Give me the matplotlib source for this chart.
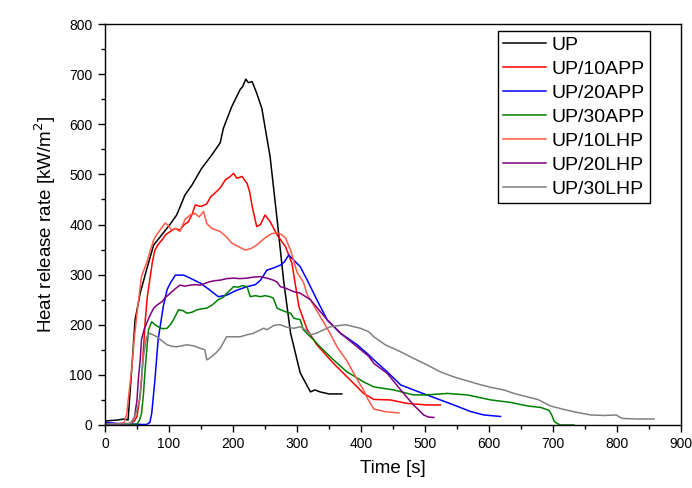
import matplotlib
matplotlib.use("Agg")
import matplotlib.pyplot as plt
from matplotlib.ticker import MultipleLocator

plt.rcParams['font.family'] = ['Liberation Sans', 'DejaVu Sans']

labels = ["UP", "UP/10APP", "UP/20APP", "UP/30APP", "UP/10LHP", "UP/20LHP", "UP/30LHP"]
colors = ["#000000", "#FF0000", "#0000FF", "#008000", "#FF5A47", "#800080", "#808080"]

t_up = [0, 10, 20, 30, 36, 42, 47, 55, 65, 76, 91, 102, 112, 125, 136, 151, 167, 180, 185, 198, 211, 215, 220, 224, 230, 237, 245, 258, 269, 279, 290, 305, 321, 328, 336, 350, 370]
v_up = [8, 9, 10, 12, 10, 116, 210, 263, 310, 359, 383, 401, 419, 459, 479, 512, 539, 563, 592, 635, 669, 675, 690, 683, 685, 662, 632, 535, 409, 289, 183, 104, 66, 70, 66, 62, 62]

t_10app = [0, 20, 40, 46, 50, 54, 57, 60, 63, 66, 70, 74, 78, 84, 89, 95, 102, 110, 117, 124, 130, 136, 141, 150, 159, 165, 172, 180, 188, 195, 201, 206, 214, 222, 226, 230, 237, 243, 250, 258, 269, 282, 292, 303, 316, 331, 357, 383, 404, 420, 446, 472, 503, 524]
v_10app = [2, 2, 3, 8, 17, 50, 90, 150, 210, 255, 290, 325, 349, 362, 369, 380, 386, 392, 389, 400, 405, 420, 439, 436, 441, 455, 463, 473, 489, 495, 502, 492, 496, 482, 465, 436, 396, 400, 419, 406, 379, 356, 323, 236, 190, 160, 123, 90, 63, 51, 50, 43, 40, 40]

t_20app = [0, 20, 40, 60, 65, 70, 73, 78, 83, 91, 97, 102, 110, 123, 133, 149, 164, 177, 190, 206, 222, 235, 243, 253, 263, 274, 280, 287, 295, 305, 316, 331, 347, 368, 394, 412, 420, 441, 462, 482, 503, 524, 545, 571, 592, 618]
v_20app = [5, 3, 2, 1, 1, 5, 23, 90, 170, 236, 270, 283, 299, 299, 293, 283, 269, 256, 259, 269, 276, 280, 289, 309, 313, 319, 325, 339, 329, 316, 289, 250, 210, 183, 160, 140, 130, 106, 80, 70, 60, 50, 40, 27, 20, 17]

t_30app = [0, 20, 40, 50, 54, 57, 60, 63, 68, 73, 78, 83, 90, 97, 102, 107, 115, 122, 128, 136, 144, 152, 159, 168, 177, 185, 190, 201, 208, 215, 222, 227, 235, 243, 250, 258, 263, 269, 274, 282, 290, 295, 305, 310, 321, 326, 336, 357, 378, 399, 404, 420, 451, 482, 503, 535, 566, 603, 634, 660, 681, 694, 698, 702, 708, 712, 733]
v_30app = [1, 1, 1, 2, 10, 23, 60, 116, 190, 206, 200, 196, 192, 193, 200, 210, 230, 228, 223, 225, 230, 232, 233, 240, 250, 255, 262, 276, 275, 278, 276, 256, 258, 256, 258, 256, 253, 233, 230, 226, 223, 213, 210, 190, 176, 170, 156, 130, 106, 90, 86, 76, 70, 60, 60, 63, 60, 50, 45, 38, 35, 29, 20, 7, 2, 0, 0]

t_10lhp = [0, 20, 30, 34, 38, 42, 46, 50, 54, 57, 61, 65, 70, 76, 81, 86, 94, 99, 104, 110, 117, 125, 133, 141, 147, 154, 159, 167, 180, 190, 198, 210, 219, 228, 237, 245, 253, 261, 269, 276, 282, 290, 300, 310, 316, 331, 352, 363, 378, 390, 399, 404, 410, 420, 436, 459]
v_10lhp = [2, 2, 5, 23, 70, 116, 175, 223, 265, 296, 310, 323, 345, 369, 380, 389, 403, 398, 389, 392, 386, 410, 419, 422, 415, 426, 402, 392, 386, 375, 363, 355, 349, 352, 359, 368, 376, 382, 383, 380, 373, 349, 305, 285, 260, 228, 182, 155, 128, 100, 80, 70, 53, 32, 27, 24]

t_20lhp = [0, 20, 40, 46, 50, 52, 55, 57, 61, 65, 70, 76, 82, 89, 95, 102, 110, 117, 125, 133, 141, 149, 157, 164, 172, 180, 190, 201, 211, 222, 232, 243, 253, 263, 269, 274, 284, 295, 305, 321, 334, 347, 368, 394, 412, 420, 441, 462, 482, 498, 505, 514]
v_20lhp = [1, 1, 3, 15, 50, 90, 130, 170, 190, 203, 218, 233, 240, 246, 255, 263, 272, 279, 277, 279, 280, 279, 283, 286, 288, 289, 292, 293, 292, 293, 295, 296, 293, 289, 285, 276, 272, 266, 263, 250, 230, 210, 183, 156, 137, 123, 103, 70, 40, 20, 16, 15]

t_30lhp = [0, 20, 40, 44, 50, 55, 60, 65, 70, 75, 81, 89, 97, 105, 112, 120, 128, 138, 149, 156, 159, 162, 166, 170, 175, 180, 190, 200, 211, 222, 232, 243, 248, 253, 263, 269, 274, 284, 295, 305, 313, 321, 330, 342, 352, 363, 376, 389, 399, 412, 420, 438, 462, 482, 503, 524, 545, 566, 582, 603, 623, 639, 660, 676, 696, 717, 738, 759, 780, 799, 805, 809, 832, 858]
v_30lhp = [2, 2, 3, 10, 30, 56, 136, 176, 183, 180, 176, 168, 160, 157, 156, 158, 160, 158, 153, 150, 130, 132, 136, 140, 146, 153, 176, 176, 176, 180, 183, 190, 193, 190, 198, 200, 200, 195, 193, 196, 190, 180, 183, 190, 196, 198, 200, 196, 193, 186, 176, 160, 146, 133, 120, 106, 96, 88, 82, 75, 70, 63, 56, 51, 38, 31, 25, 20, 19, 20, 15, 13, 12, 12]

series_t = [t_up, t_10app, t_20app, t_30app, t_10lhp, t_20lhp, t_30lhp]
series_v = [v_up, v_10app, v_20app, v_30app, v_10lhp, v_20lhp, v_30lhp]

fig = plt.figure(figsize=(6.92, 4.88), dpi=100)
ax = fig.add_axes([105/692, 63/488, 576/692, 401/488])

for t, v, c, lab in zip(series_t, series_v, colors, labels):
    ax.plot(t, v, color=c, lw=1.1, label=lab)

ax.set_xlim(0, 900)
ax.set_ylim(0, 800)
ax.xaxis.set_major_locator(MultipleLocator(100))
ax.xaxis.set_minor_locator(MultipleLocator(50))
ax.yaxis.set_major_locator(MultipleLocator(100))
ax.yaxis.set_minor_locator(MultipleLocator(50))
ax.tick_params(which='major', direction='out', length=5, width=1, labelsize=10, pad=4)
ax.tick_params(which='minor', direction='out', length=3, width=1)
for s in ax.spines.values():
    s.set_linewidth(1.0)

ax.set_xlabel("Time [s]", fontsize=13.5, labelpad=6)
ax.set_ylabel("Heat release rate [kW/m$^2$]", fontsize=13.5, labelpad=8)

leg = ax.legend(loc='upper right', bbox_to_anchor=(0.946, 0.982), fontsize=14,
                frameon=True, fancybox=False, edgecolor='black', framealpha=1,
                handlelength=2.2, handletextpad=0.3, labelspacing=0.33,
                borderpad=0.25, borderaxespad=0)
leg.get_frame().set_linewidth(1.0)

fig.savefig("out.png", dpi=100)
